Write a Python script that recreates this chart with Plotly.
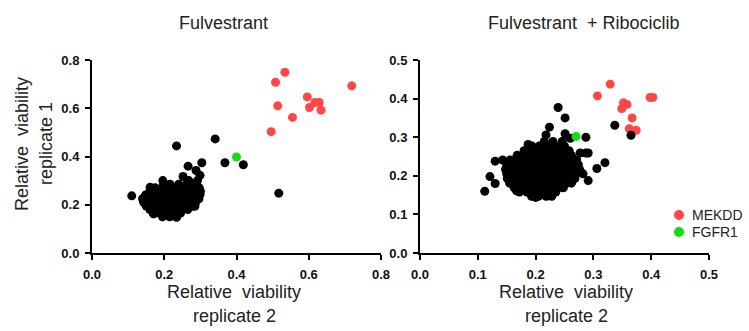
import plotly.graph_objects as go

# ---------------- data: Fulvestrant ----------------
# dense body of the "other" genes, listed row by row (y value, x values)
fulv_body_rows_y = [0.150, 0.165, 0.180, 0.195, 0.210, 0.225, 0.240, 0.255, 0.270, 0.285, 0.300]
fulv_body_rows_x = [
    [0.195, 0.215, 0.234],
    [0.175, 0.192, 0.210, 0.228, 0.245],
    [0.160, 0.178, 0.196, 0.214, 0.232, 0.250, 0.265],
    [0.150, 0.168, 0.186, 0.204, 0.222, 0.240, 0.258, 0.276, 0.285],
    [0.143, 0.161, 0.179, 0.197, 0.215, 0.233, 0.251, 0.269, 0.287],
    [0.140, 0.158, 0.176, 0.194, 0.212, 0.230, 0.248, 0.266, 0.284, 0.296],
    [0.148, 0.166, 0.184, 0.202, 0.220, 0.238, 0.256, 0.274, 0.292],
    [0.160, 0.178, 0.196, 0.214, 0.232, 0.250, 0.268, 0.286, 0.300],
    [0.175, 0.193, 0.211, 0.229, 0.247, 0.265, 0.283, 0.297],
    [0.198, 0.216, 0.240, 0.262, 0.282],
    [0.196, 0.268, 0.292],
]
fulv_extra_x = [0.156, 0.170, 0.234, 0.281, 0.299, 0.161,
                0.252, 0.266, 0.288, 0.299, 0.304, 0.368, 0.419, 0.341, 0.234, 0.517, 0.110]
fulv_extra_y = [0.197, 0.162, 0.148, 0.194, 0.243, 0.273,
                0.317, 0.360, 0.342, 0.322, 0.374, 0.374, 0.366, 0.473, 0.444, 0.248, 0.237]
fulv_mekdd_x = [0.534, 0.508, 0.514, 0.496, 0.555, 0.596, 0.602, 0.617, 0.629, 0.634, 0.719]
fulv_mekdd_y = [0.749, 0.708, 0.610, 0.503, 0.562, 0.647, 0.603, 0.624, 0.624, 0.592, 0.693]
fulv_fgfr1_x = [0.400]
fulv_fgfr1_y = [0.398]

# ---------------- data: Fulvestrant + Ribociclib ----------------
ribo_body_rows_y = [0.147, 0.158, 0.169, 0.181, 0.193, 0.205, 0.217, 0.229, 0.241,
                    0.253, 0.265, 0.277, 0.289]
ribo_body_rows_x = [
    [0.193, 0.205, 0.218, 0.228],
    [0.172, 0.185, 0.198, 0.210, 0.222, 0.235],
    [0.163, 0.175, 0.188, 0.200, 0.212, 0.225, 0.238, 0.248],
    [0.155, 0.167, 0.180, 0.192, 0.204, 0.216, 0.228, 0.241, 0.254, 0.262],
    [0.151, 0.163, 0.176, 0.188, 0.200, 0.212, 0.224, 0.236, 0.249, 0.260, 0.268],
    [0.150, 0.162, 0.174, 0.186, 0.198, 0.210, 0.222, 0.234, 0.246, 0.258, 0.270],
    [0.148, 0.160, 0.172, 0.184, 0.196, 0.208, 0.220, 0.232, 0.244, 0.256, 0.268, 0.276],
    [0.150, 0.162, 0.174, 0.186, 0.198, 0.210, 0.222, 0.234, 0.246, 0.258, 0.270, 0.274],
    [0.156, 0.168, 0.180, 0.192, 0.204, 0.216, 0.228, 0.240, 0.252, 0.264, 0.271],
    [0.168, 0.180, 0.192, 0.204, 0.216, 0.228, 0.240, 0.252, 0.262],
    [0.180, 0.192, 0.204, 0.216, 0.228, 0.240, 0.252, 0.258],
    [0.194, 0.206, 0.218, 0.230, 0.242, 0.250],
    [0.215, 0.230, 0.246],
]
ribo_extra_x = [0.167, 0.200, 0.222, 0.245, 0.291, 0.306, 0.320, 0.282, 0.157,
                0.277, 0.287, 0.291, 0.287, 0.260, 0.251, 0.218, 0.224, 0.251, 0.239,
                0.187, 0.143, 0.130, 0.121, 0.130, 0.112, 0.337, 0.365]
ribo_extra_y = [0.161, 0.144, 0.148, 0.170, 0.1875, 0.219, 0.234, 0.205, 0.212,
                0.259, 0.259, 0.259, 0.300, 0.297, 0.309, 0.306, 0.326, 0.350, 0.377,
                0.281, 0.241, 0.238, 0.198, 0.180, 0.160, 0.331, 0.305]
ribo_mekdd_x = [0.307, 0.329, 0.352, 0.358, 0.349, 0.367, 0.362, 0.374, 0.398, 0.403]
ribo_mekdd_y = [0.407, 0.4375, 0.389, 0.385, 0.374, 0.350, 0.322, 0.318, 0.403, 0.403]
ribo_fgfr1_x = [0.270]
ribo_fgfr1_y = [0.302]

left_ticks = [0.0, 0.2, 0.4, 0.6, 0.8]
right_ticks = [0.0, 0.1, 0.2, 0.3, 0.4, 0.5]
legend_labels = ["MEKDD", "FGFR1"]


def flatten(rows_y, rows_x, extra_x, extra_y):
    xs, ys = [], []
    for yv, row in zip(rows_y, rows_x):
        for xv in row:
            xs.append(xv)
            ys.append(yv)
    return xs + list(extra_x), ys + list(extra_y)


fulv_other_x, fulv_other_y = flatten(fulv_body_rows_y, fulv_body_rows_x, fulv_extra_x, fulv_extra_y)
ribo_other_x, ribo_other_y = flatten(ribo_body_rows_y, ribo_body_rows_x, ribo_extra_x, ribo_extra_y)

RED = "#ff4747"
GREEN = "#13dc13"
BLACK = "#000000"
MS = 9

fig = go.Figure()


def add_panel(xa, ya, ox, oy, mx, my, gx, gy):
    fig.add_trace(go.Scatter(x=mx, y=my, mode="markers", xaxis=xa, yaxis=ya,
                             marker=dict(color=RED, size=MS), name=legend_labels[0],
                             showlegend=False))
    fig.add_trace(go.Scatter(x=ox, y=oy, mode="markers", xaxis=xa, yaxis=ya,
                             marker=dict(color=BLACK, size=MS), showlegend=False))
    fig.add_trace(go.Scatter(x=gx, y=gy, mode="markers", xaxis=xa, yaxis=ya,
                             marker=dict(color=GREEN, size=MS), name=legend_labels[1],
                             showlegend=False))


add_panel("x", "y", fulv_other_x, fulv_other_y, fulv_mekdd_x, fulv_mekdd_y,
          fulv_fgfr1_x, fulv_fgfr1_y)
add_panel("x2", "y2", ribo_other_x, ribo_other_y, ribo_mekdd_x, ribo_mekdd_y,
          ribo_fgfr1_x, ribo_fgfr1_y)

W, H = 749, 331
tickfont = dict(family="Liberation Sans, Arial, sans-serif", size=13, color="#111")
titlefont = dict(family="Liberation Sans, Arial, sans-serif", size=18, color="#222")


def axis_common(ticks, domain, anchor):
    return dict(domain=domain, anchor=anchor, range=[ticks[0], ticks[-1]],
                tickvals=ticks, ticktext=[f"<b>{t:.1f}</b>" for t in ticks],
                showline=True, linecolor="black", linewidth=2,
                ticks="outside", ticklen=5, tickwidth=2, tickcolor="black",
                ticklabelstandoff=3, automargin=False,
                showgrid=False, zeroline=False, tickfont=tickfont)


ydom = [1 - 253 / H, 1 - 60 / H]
fig.update_layout(
    width=W, height=H,
    margin=dict(l=0, r=0, t=0, b=0, pad=0),
    paper_bgcolor="white", plot_bgcolor="white",
    xaxis=axis_common(left_ticks, [92 / W, 381 / W], "y"),
    yaxis=axis_common(left_ticks, ydom, "x"),
    xaxis2=axis_common(right_ticks, [420 / W, 709 / W], "y2"),
    yaxis2=axis_common(right_ticks, ydom, "x2"),
    showlegend=False,
)

annotations = [
    dict(text="Fulvestrant", x=224 / W, y=1 - 23 / H),
    dict(text="Fulvestrant  + Ribociclib", x=584 / W, y=1 - 23 / H),
    dict(text="Relative  viability", x=234 / W, y=1 - 292 / H),
    dict(text="replicate 2", x=234 / W, y=1 - 316 / H),
    dict(text="Relative  viability", x=566 / W, y=1 - 292 / H),
    dict(text="replicate 2", x=566 / W, y=1 - 316 / H),
]
for a in annotations:
    fig.add_annotation(xref="paper", yref="paper", showarrow=False,
                       xanchor="center", yanchor="middle", font=titlefont, **a)
for txt, xp in [("Relative  viability", 22), ("replicate 1", 46)]:
    fig.add_annotation(xref="paper", yref="paper", showarrow=False, text=txt,
                       x=xp / W, y=1 - 144 / H, textangle=-90,
                       xanchor="center", yanchor="middle", font=titlefont)

# manual legend (circle symbol + label)
for lab, col, cy in [(legend_labels[0], RED, 215), (legend_labels[1], GREEN, 232)]:
    r = 5
    fig.add_shape(type="circle", xref="paper", yref="paper",
                  x0=(679 - r) / W, x1=(679 + r) / W,
                  y0=1 - (cy + r) / H, y1=1 - (cy - r) / H,
                  fillcolor=col, line=dict(width=0))
    fig.add_annotation(xref="paper", yref="paper", showarrow=False, text=lab,
                       x=690 / W, y=1 - cy / H, xanchor="left", yanchor="middle",
                       font=dict(family="Liberation Sans, Arial, sans-serif", size=14, color="#222"))

fig.write_html("out.html",
               post_script="document.body.style.margin='0';document.body.style.padding='0';"
                           "document.body.style.overflow='hidden';")
